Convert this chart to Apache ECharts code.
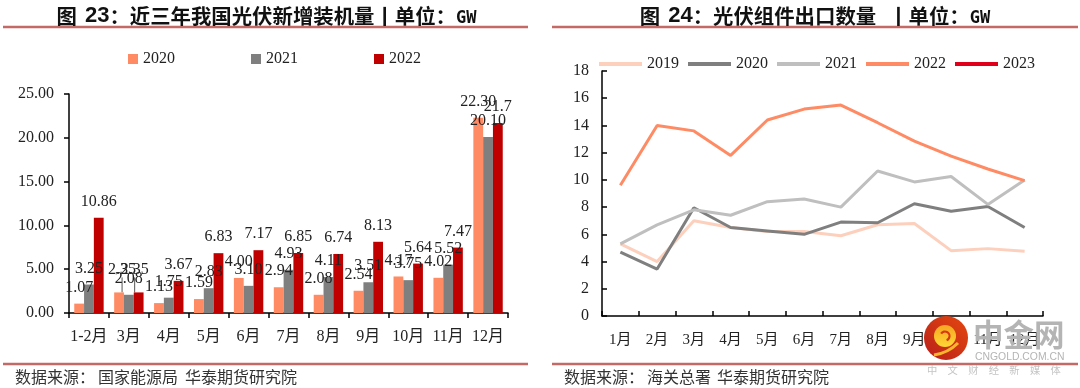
<!DOCTYPE html>
<html>
<head>
<meta charset="utf-8">
<style>
html, body { margin: 0; padding: 0; background: #fff; }
#chart { width: 1080px; height: 388px; }
</style>
<script src="https://cdn.jsdelivr.net/npm/echarts@6/dist/echarts.min.js"></script>
</head>
<body>
<div id="chart"></div>
<script>
// fig 23 - new PV installs, GW
var bar_months = ['1-2月', '3月', '4月', '5月', '6月', '7月', '8月', '9月', '10月', '11月', '12月'];
var bar_2020 = [1.07, 2.35, 1.13, 1.59, 4.00, 2.94, 2.08, 2.54, 4.17, 4.02, 22.30];
var bar_2021 = [3.25, 2.08, 1.75, 2.83, 3.10, 4.93, 4.11, 3.51, 3.75, 5.52, 20.10];
var bar_2022 = [10.86, 2.35, 3.67, 6.83, 7.17, 6.85, 6.74, 8.13, 5.64, 7.47, 21.7];
var bar_2022_labels = ['10.86', '2.35', '3.67', '6.83', '7.17', '6.85', '6.74', '8.13', '5.64', '7.47', '21.7'];

// fig 24 - module exports, GW
var line_months = ['1月', '2月', '3月', '4月', '5月', '6月', '7月', '8月', '9月', '10月', '11月', '12月'];
var line_2019 = [5.3, 4.0, 7.0, 6.5, 6.2, 6.2, 5.9, 6.7, 6.8, 4.8, 4.95, 4.75];
var line_2020 = [4.7, 3.45, 7.95, 6.5, 6.25, 6.0, 6.9, 6.85, 8.25, 7.7, 8.05, 6.5];
var line_2021 = [5.3, 6.7, 7.8, 7.4, 8.4, 8.6, 8.0, 10.65, 9.85, 10.25, 8.2, 10.0];
var line_2022 = [9.6, 14.0, 13.6, 11.8, 14.4, 15.2, 15.5, 14.2, 12.85, 11.75, 10.8, 9.95];
var line_2023 = [];

var SERIF = '"Liberation Serif", "Noto Sans CJK SC"';
var CJK = '"Noto Sans CJK SC"';
var INK = '#222';

var title_rich = {
    h: {fontFamily: CJK, fontWeight: 'bold', fontSize: 20.4, color: '#111'},
    s: {fontFamily: CJK, fontSize: 11, width: 8, color: '#111'},
    t: {fontFamily: CJK, fontSize: 11, width: 12, color: '#111'},
    n: {fontFamily: '"Liberation Sans"', fontWeight: 'bold', fontSize: 22, color: '#111'},
    m: {fontFamily: '"DejaVu Sans Mono"', fontWeight: 'bold', fontSize: 17, color: '#111', padding: [5, 0, 0, 0]}
};

function rule(x1, x2, y) {
    return {
        type: 'line',
        shape: {x1: x1, y1: y, x2: x2, y2: y},
        style: {stroke: '#c46a66', lineWidth: 2.4}
    };
}

function note(text, x, y, font, fill, z) {
    return {
        type: 'text',
        x: x,
        y: y,
        z: z || 1,
        style: {text: text, font: font, fill: fill, textVerticalAlign: 'middle'}
    };
}

function bar_series(name, values, color) {
    return {
        name: name,
        type: 'bar',
        xAxisIndex: 0,
        yAxisIndex: 0,
        data: values.map(function(v, i) {
            // only the two 2.35 labels in March have a leader line
            if (i == 1 && name != '2021') {
                return {value: v, labelLine: {show: true, lineStyle: {color: '#555', width: 1}}};
            }
            return {value: v};
        }),
        barWidth: 9.8,
        barGap: 0,
        itemStyle: {color: color},
        labelLayout: function(params) {
            if (params.dataIndex == 1 && name != '2021') {
                return {dx: name == '2020' ? 3 : -4, dy: -7};
            }
            return {};
        },
        label: {
            show: true,
            position: 'top',
            distance: 8,
            color: INK,
            fontFamily: SERIF,
            fontSize: 16,
            formatter: function(p) {
                if (name == '2022') {
                    return bar_2022_labels[p.dataIndex];
                }
                return p.value.toFixed(2);
            }
        }
    };
}

function line_series(name, values, color) {
    return {
        name: name,
        type: 'line',
        xAxisIndex: 1,
        yAxisIndex: 1,
        data: values,
        symbol: 'none',
        lineStyle: {color: color, width: 3},
        itemStyle: {color: color}
    };
}

var axis_line = {lineStyle: {color: '#000', width: 1.5}};
var tick_line = {lineStyle: {color: '#000', width: 1.5}};

var option = {
    animation: false,
    backgroundColor: '#fff',
    textStyle: {fontFamily: SERIF},
    title: [
        {
            text: '{h|图}{s| }{n|23}{h|：近三年我国光伏新增装机量丨单位：}{m|GW}',
            left: 261.5,
            top: 0,
            textAlign: 'center',
            textStyle: {rich: title_rich}
        },
        {
            text: '{h|图}{s| }{n|24}{h|：光伏组件出口数量}{t| }{h|丨单位：}{m|GW}',
            left: 810,
            top: 0,
            textAlign: 'center',
            textStyle: {rich: title_rich}
        }
    ],
    legend: [
        {
            data: ['2020', '2021', '2022'],
            left: 123,
            top: 46,
            itemWidth: 10,
            itemHeight: 10,
            itemGap: 76,
            icon: 'rect',
            textStyle: {fontFamily: SERIF, fontSize: 16, color: INK}
        },
        {
            data: ['2019', '2020 ', '2021 ', '2022 ', '2023'],
            left: 594,
            top: 51,
            itemWidth: 43,
            itemHeight: 4,
            itemGap: 9,
            icon: 'rect',
            formatter: function(name) { return name.trim(); },
            textStyle: {fontFamily: SERIF, fontSize: 16, color: INK}
        }
    ],
    grid: [
        {left: 69, right: 572, top: 94, bottom: 75},
        {left: 602, right: 37, top: 71, bottom: 72}
    ],
    xAxis: [
        {
            type: 'category',
            gridIndex: 0,
            data: bar_months,
            axisLine: axis_line,
            axisTick: {show: true, length: 5, lineStyle: tick_line.lineStyle},
            axisLabel: {color: INK, fontSize: 16, fontFamily: SERIF, margin: 16, interval: 0}
        },
        {
            type: 'category',
            gridIndex: 1,
            data: line_months,
            axisLine: axis_line,
            axisTick: {show: true, inside: true, length: 5, lineStyle: tick_line.lineStyle},
            axisLabel: {color: INK, fontSize: 15, fontFamily: SERIF, margin: 17, interval: 0}
        }
    ],
    yAxis: [
        {
            type: 'value',
            gridIndex: 0,
            min: 0,
            max: 25,
            interval: 5,
            splitLine: {show: false},
            axisLine: {show: true, lineStyle: axis_line.lineStyle},
            axisTick: {show: true, length: 5, lineStyle: tick_line.lineStyle},
            axisLabel: {
                color: INK,
                fontSize: 16,
                fontFamily: SERIF,
                margin: 15,
                formatter: function(v) { return v.toFixed(2); }
            }
        },
        {
            type: 'value',
            gridIndex: 1,
            min: 0,
            max: 18,
            interval: 2,
            splitLine: {show: false},
            axisLine: {show: true, lineStyle: axis_line.lineStyle},
            axisTick: {show: true, inside: true, length: 5, lineStyle: tick_line.lineStyle},
            axisLabel: {color: INK, fontSize: 16, fontFamily: SERIF, margin: 13}
        }
    ],
    series: [
        bar_series('2020', bar_2020, '#ff8b64'),
        bar_series('2021', bar_2021, '#7f7f7f'),
        bar_series('2022', bar_2022, '#c00000'),
        line_series('2019', line_2019, '#fcd0bd'),
        line_series('2020 ', line_2020, '#7f7f7f'),
        line_series('2021 ', line_2021, '#bfbfbf'),
        line_series('2022 ', line_2022, '#ff8b64'),
        line_series('2023', line_2023, '#e0001b')
    ],
    graphic: [
        rule(3, 528, 27),
        rule(552, 1078, 27),
        rule(3, 528, 364),
        rule(552, 1078, 364),
        note('数据来源：', 15, 377, '16px ' + CJK, '#333'),
        note('国家能源局', 98, 377, '16px ' + CJK, '#333'),
        note('华泰期货研究院', 185, 377, '16px ' + CJK, '#333'),
        note('数据来源：', 564, 377, '16px ' + CJK, '#333'),
        note('海关总署', 647, 377, '16px ' + CJK, '#333'),
        note('华泰期货研究院', 717, 377, '16px ' + CJK, '#333'),
        // watermark, sits on top of the chart
        {
            type: 'circle',
            z: 20,
            shape: {cx: 946, cy: 338, r: 22},
            style: {
                fill: {
                    type: 'linear', x: 1, y: 0, x2: 0, y2: 1,
                    colorStops: [{offset: 0, color: '#e4480f'}, {offset: 1, color: '#b81e1a'}]
                }
            }
        },
        {
            type: 'circle',
            z: 21,
            shape: {cx: 945, cy: 336, r: 11},
            style: {
                fill: {
                    type: 'linear', x: 0.5, y: 0, x2: 0.5, y2: 1,
                    colorStops: [{offset: 0, color: '#f6a623'}, {offset: 1, color: '#fdd835'}]
                }
            }
        },
        {
            type: 'arc',
            z: 22,
            shape: {cx: 945, cy: 336, r: 4.5, startAngle: -2.6, endAngle: 1.2, clockwise: true},
            style: {stroke: '#d8380f', lineWidth: 2.2, fill: null}
        },
        {
            type: 'bezierCurve',
            z: 21,
            shape: {x1: 934, y1: 355, x2: 958, y2: 343, cpx1: 948, cpy1: 353},
            style: {stroke: '#f8b62d', lineWidth: 3, fill: null}
        },
        note('中金网', 973, 334, 'bold 30.5px ' + CJK, '#b4b4b4', 20),
        note('CNGOLD.COM.CN', 975, 357, '10.4px "Liberation Sans"', '#b4b4b4', 20),
        note('中\u3000文\u3000财\u3000经\u3000新\u3000媒\u3000体', 927, 370, '10.3px ' + CJK, '#c4c4c4', 20)
    ]
};

var plot_chart = echarts.init(document.getElementById('chart'), null, {renderer: 'canvas'});
plot_chart.setOption(option);
</script>
</body>
</html>
